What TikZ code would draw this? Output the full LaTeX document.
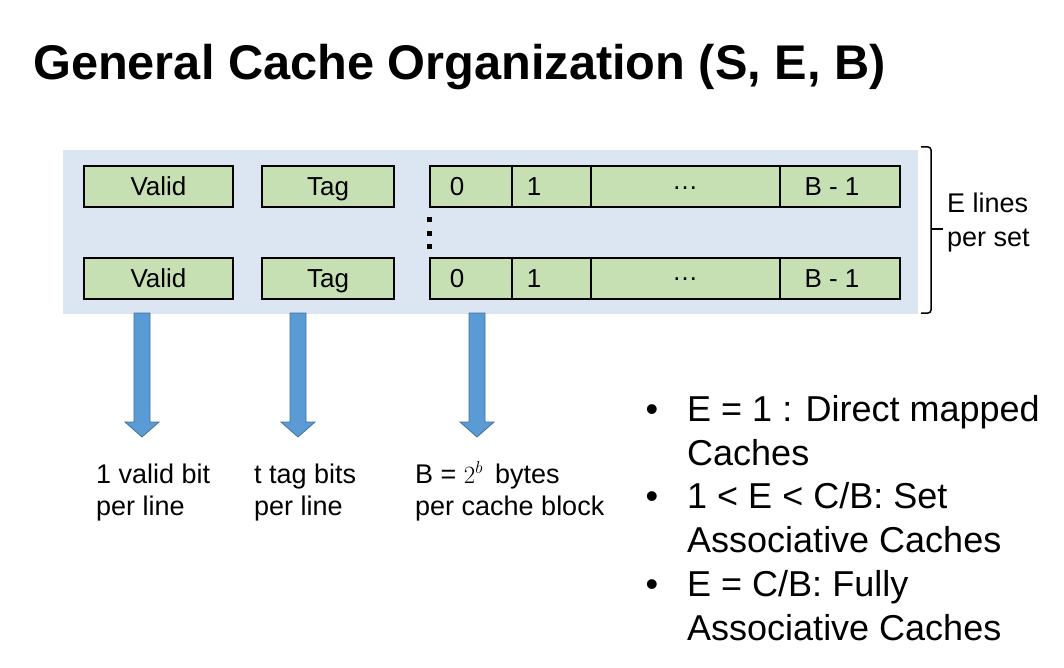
\documentclass[tikz,border=0pt]{standalone}
\usepackage{fontspec}
\setmainfont{Liberation Sans}
\usetikzlibrary{calc}
\definecolor{bgblue}{HTML}{DCE6F2}
\definecolor{cellgreen}{HTML}{C6E0B4}
\definecolor{arrowblue}{HTML}{5B9BD5}
\definecolor{arrowedge}{HTML}{41719C}
\begin{document}
\begin{tikzpicture}[x=1pt,y=-1pt,
  cellbox/.style={draw=black, line width=2pt, fill=cellgreen, minimum height=41pt, inner sep=0pt, text height=21pt, text depth=2pt, font=\fontsize{26}{31}\selectfont},
  divider/.style={draw=black, line width=1.5pt},
  celltext/.style={inner sep=0pt, text height=21pt, text depth=2pt, font=\fontsize{26}{31}\selectfont},
  dotstext/.style={inner sep=0pt, font=\fontsize{26}{31}\selectfont},
  smalltext/.style={inner sep=0pt, anchor=base west, font=\fontsize{27}{32}\selectfont},
  bullettext/.style={inner sep=0pt, anchor=base west, font=\fontsize{36}{44}\selectfont},
  blockarrow/.style={fill=arrowblue, draw=arrowedge, line width=0.8pt, line join=miter},
  bracket/.style={draw=black, line width=1.5pt, rounded corners=3pt}
]
\useasboundingbox (0,0) rectangle (1064,668);
\fill[white] (0,0) rectangle (1064,668);

% title
\node[inner sep=0pt, anchor=base west, font=\bfseries\fontsize{48.7}{58}\selectfont] (title) at (33,80) {General Cache Organization (S, E, B)};

% background of the set
\node[fill=bgblue, minimum width=855pt, minimum height=164pt, inner sep=0pt] (bg) at (490.5,232) {};

% row 1
\node[cellbox, minimum width=149pt] (valid1) at (158.5,186.5) {Valid};
\node[cellbox, minimum width=132pt] (tag1) at (328,186.5) {Tag};
\node[cellbox, minimum width=470pt] (data1) at (665,186.5) {};
% row 2
\node[cellbox, minimum width=149pt] (valid2) at (158.5,278) {Valid};
\node[cellbox, minimum width=132pt] (tag2) at (328,278) {Tag};
\node[cellbox, minimum width=470pt] (data2) at (665,278) {};

\foreach \r in {1,2}{
  \foreach \dx in {83,162,351}{
    \draw[divider] ($(data\r.north west)+(\dx,0)$) -- ($(data\r.south west)+(\dx,0)$);
  }
  \node[celltext] (zero\r) at ($(data\r.west)+(28,0)$) {0};
  \node[celltext] (one\r) at ($(data\r.west)+(105,0)$) {1};
  \node[dotstext] (dots\r) at ($(data\r.west)+(256,1.5)$) {…};
  \node[celltext] (last\r) at ($(data\r.west)+(403,0)$) {B - 1};
}

% vertical dots
\foreach \yy in {220,233,246}{
  \fill[black] (426.5,\yy-2.5) rectangle (431.5,\yy+2.5);
}

% bracket
\coordinate (brtop) at (921,147);
\coordinate (brbot) at (921,313);
\coordinate (brtip) at (943,229);
\draw[bracket] (brtop) -- (931,147) -- (931,229) -- (931,313) -- (brbot);
\draw[draw=black, line width=1.5pt] (931,229) -- (brtip);
\node[smalltext] (elines) at (947,213) {E lines};
\node[smalltext] (perset) at (947,246) {per set};

% block arrows
\foreach \ax/\nm in {142/a1,298/a2,477/a3}{
  \draw[blockarrow] (\ax-8,313) -- (\ax+8,313) -- (\ax+8,422) -- (\ax+17,422) -- (\ax,437) -- (\ax-17,422) -- (\ax-8,422) -- cycle;
}

% labels under arrows
\node[smalltext] (vb1) at (96,483) {1 valid bit};
\node[smalltext] (vb2) at (96,515) {per line};
\node[smalltext] (tb1) at (254,483) {t tag bits};
\node[smalltext] (tb2) at (254,515) {per line};
\node[smalltext] (bb1) at (415,483) {B = $2^{b}$\, bytes};
\node[smalltext] (bb2) at (415,515) {per cache block};

% bullets
\foreach \yy/\nm in {421/b1,508/b2,596/b3}{
  \node[bullettext] (\nm) at (645.5,\yy) {•};
}
\node[bullettext] (l1) at (687,421) {E = 1 : Direct mapped};
\node[bullettext] (l2) at (687,465) {Caches};
\node[bullettext] (l3) at (687,508) {1 < E < C/B: Set};
\node[bullettext] (l4) at (687,552) {Associative Caches};
\node[bullettext] (l5) at (687,596) {E = C/B: Fully};
\node[bullettext] (l6) at (687,640) {Associative Caches};
\end{tikzpicture}
\end{document}
